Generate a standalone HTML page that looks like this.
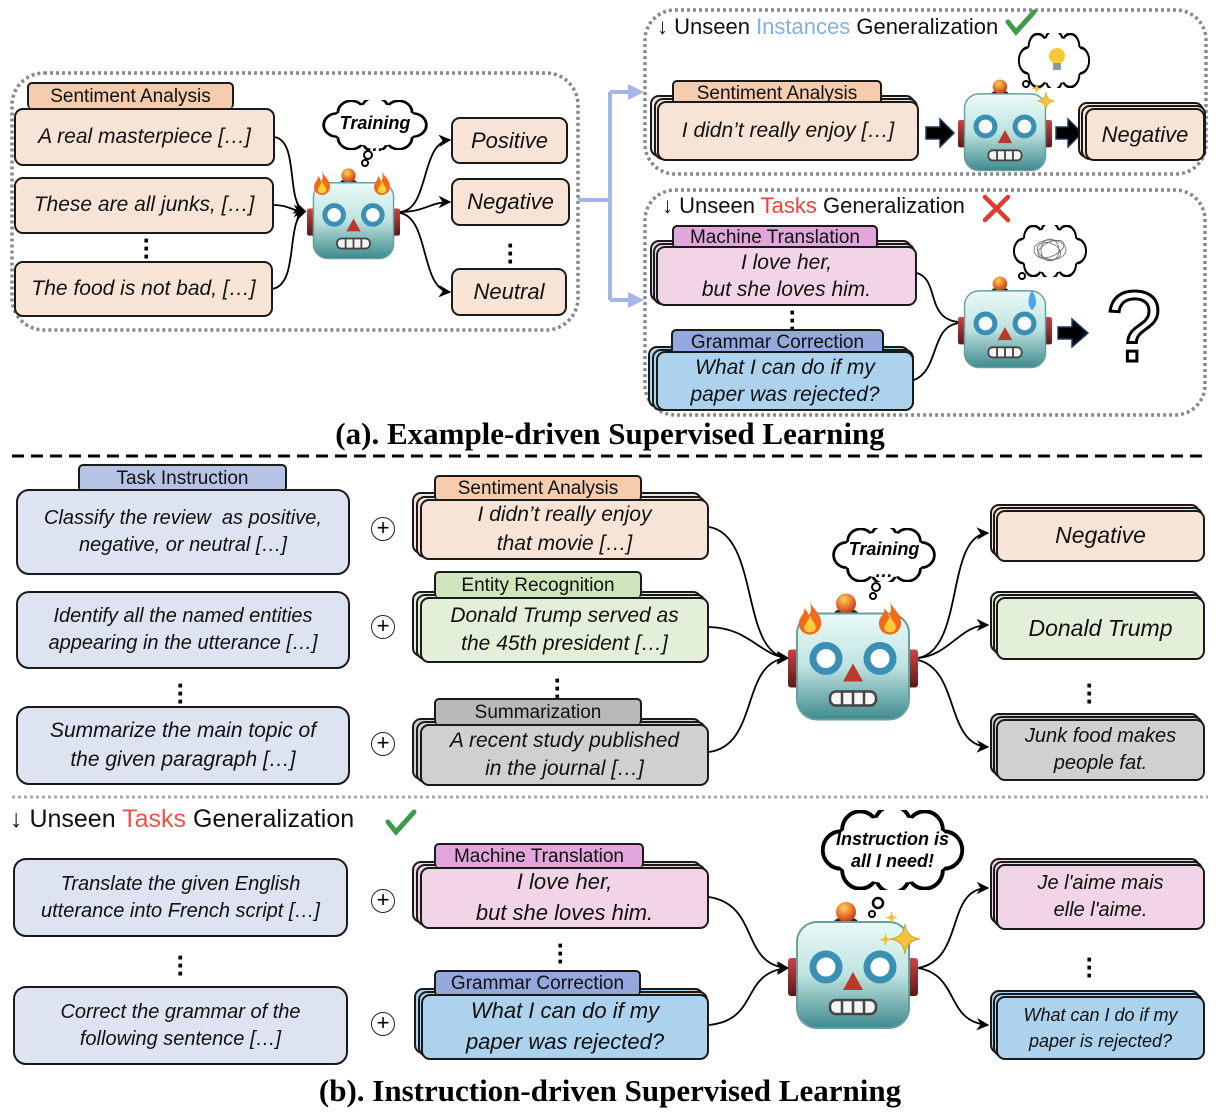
<!DOCTYPE html>
<html><head><meta charset="utf-8">
<style>
body{margin:0;background:#fff;}
#c{position:relative;width:1220px;height:1120px;overflow:hidden;font-family:"Liberation Sans","DejaVu Sans",sans-serif;}
.a{position:absolute;box-sizing:border-box;}
.b{position:absolute;box-sizing:border-box;border:2px solid #1a1a1a;border-radius:9px;display:flex;align-items:center;justify-content:center;text-align:center;font-style:italic;color:#111;line-height:1.35;}
.t{position:absolute;box-sizing:border-box;border:2px solid #1a1a1a;border-radius:5px;display:flex;align-items:center;justify-content:center;color:#111;font-size:19px;border-bottom:none;}
.pe{background:#f8e4d6}.pet{background:#f5ccae}
.pk{background:#f1d4e5}.pkt{background:#e3a6dc}
.gr{background:#e3efd8}.grt{background:#cfe5bd}
.gy{background:#d0d0d0}.gyt{background:#b9b9b9}
.bl{background:#add2ee}.blt{background:#94a8de}
.in{background:#dde3f0}.int{background:#b6c3e4}
.dots{position:absolute;font-size:26px;font-weight:bold;line-height:8px;width:10px;text-align:center;}
.plus{position:absolute;width:24px;height:24px;border:1.5px solid #222;border-radius:50%;box-sizing:border-box;font-size:22px;line-height:20px;text-align:center;font-weight:300;}
.ttl{position:absolute;left:0;width:1220px;text-align:center;font-family:"Liberation Serif",serif;font-weight:bold;font-size:31px;}
.hd{position:absolute;font-size:22px;color:#111;white-space:nowrap;}
.cl{position:absolute;text-align:center;font-style:italic;font-weight:bold;font-size:18px;line-height:22px;}
</style></head><body><div id="c">
<svg class="a" style="left:0;top:0" width="1220" height="1120" viewBox="0 0 1220 1120">
<defs>
<linearGradient id="hg" x1="0" y1="0" x2="0" y2="1"><stop offset="0" stop-color="#eafbf8"/><stop offset="0.5" stop-color="#bfe3e0"/><stop offset="1" stop-color="#3f8a8e"/></linearGradient>
<radialGradient id="ag" cx="0.4" cy="0.3" r="0.7"><stop offset="0" stop-color="#ffd35a"/><stop offset="0.6" stop-color="#e8702a"/><stop offset="1" stop-color="#b2401b"/></radialGradient>
<linearGradient id="eg" x1="0" y1="0" x2="0" y2="1"><stop offset="0" stop-color="#c44"/><stop offset="1" stop-color="#5a1a1a"/></linearGradient>
<symbol id="robot" viewBox="0 0 130 130">
<rect x="0" y="58" width="14" height="38" rx="3" fill="url(#eg)"/>
<rect x="116" y="58" width="14" height="38" rx="3" fill="url(#eg)"/>
<ellipse cx="58" cy="22" rx="12" ry="5" fill="#222"/>
<circle cx="58" cy="12" r="10" fill="url(#ag)"/>
<rect x="9" y="22" width="112" height="106" rx="20" fill="url(#hg)" stroke="#6a9e9e" stroke-width="2"/>
<circle cx="38" cy="67" r="13" fill="#fff" stroke="#3a8fb5" stroke-width="7"/>
<circle cx="92" cy="67" r="13" fill="#fff" stroke="#3a8fb5" stroke-width="7"/>
<polygon points="65,72 55,90 75,90" fill="#b83a2c"/>
<rect x="42" y="100" width="46" height="14" rx="6" fill="#f4f4f4" stroke="#444" stroke-width="2.5"/>
<path d="M54 100v14M65 100v14M76 100v14" stroke="#444" stroke-width="2.5"/>
</symbol>
<symbol id="cloud" viewBox="0 0 120 60" preserveAspectRatio="none">
<g fill="#fff" stroke="#000" stroke-width="3">
<circle cx="20" cy="30" r="14"/><circle cx="35" cy="15" r="14"/><circle cx="60" cy="11" r="14"/><circle cx="85" cy="15" r="14"/><circle cx="100" cy="30" r="14"/><circle cx="85" cy="45" r="14"/><circle cx="60" cy="49" r="13"/><circle cx="35" cy="45" r="14"/>
</g>
<g fill="#fff">
<circle cx="20" cy="30" r="12.3"/><circle cx="35" cy="15" r="12.3"/><circle cx="60" cy="11" r="12.3"/><circle cx="85" cy="15" r="12.3"/><circle cx="100" cy="30" r="12.3"/><circle cx="85" cy="45" r="12.3"/><circle cx="60" cy="49" r="11.3"/><circle cx="35" cy="45" r="12.3"/><ellipse cx="60" cy="30" rx="47" ry="25"/>
</g>
</symbol>
<symbol id="flame" viewBox="0 0 20 26">
<path d="M10 1C12 7 19 10 18 18C17 23 13 25 10 25C6 25 2 22 2 17C2 12 6 11 6 6C8 8 9 10 9 12C11 9 11 5 10 1Z" fill="#f26b1d"/>
<path d="M10 11C11 15 15 17 14 21C13 24 7 24 6 21C5 18 9 16 10 11Z" fill="#ffcf3a"/>
</symbol>
<symbol id="spark" viewBox="0 0 20 20"><path d="M10 0Q11 9 20 10Q11 11 10 20Q9 11 0 10Q9 9 10 0Z" fill="#f5c33a" stroke="#d79b1c" stroke-width="0.6"/></symbol>
<marker id="ar" viewBox="0 0 10 10" refX="9" refY="5" markerWidth="7" markerHeight="7" orient="auto"><path d="M0 0L10 5L0 10L3 5Z" fill="#000"/></marker>
</defs>

<rect x="12" y="73" width="566" height="257" rx="32" fill="none" stroke="#888" stroke-width="3.5" stroke-dasharray="3 3"/>
<rect x="645" y="10" width="561" height="164" rx="30" fill="none" stroke="#888" stroke-width="3.5" stroke-dasharray="3 3"/>
<rect x="645" y="190" width="560" height="225" rx="30" fill="none" stroke="#888" stroke-width="3.5" stroke-dasharray="3 3"/>
<path d="M578 200H610M610 92V300M610 92H636M610 300H636" stroke="#a3b6e6" stroke-width="4" fill="none"/>
<path d="M628 84L644 92L628 100Z M628 292L644 300L628 308Z" fill="#a3b6e6"/>

<g fill="none" stroke="#000" stroke-width="1.8">
<path d="M274 137C300 140 285 205 305 211" marker-end="url(#ar)"/>
<path d="M273 205C290 205 290 211 305 211" marker-end="url(#ar)"/>
<path d="M272 289C300 285 285 218 305 212" marker-end="url(#ar)"/>
<path d="M400 212C430 210 420 142 450 140" marker-end="url(#ar)"/>
<path d="M400 212C425 212 430 202 450 202" marker-end="url(#ar)"/>
<path d="M400 213C430 218 420 290 450 292" marker-end="url(#ar)"/>
<path d="M917 273C940 280 925 320 960 322"/>
<path d="M914 380C940 370 930 325 960 323"/>
<path d="M709 527C760 535 740 655 788 658" marker-end="url(#ar)"/>
<path d="M709 627C750 628 760 656 788 658" marker-end="url(#ar)"/>
<path d="M709 752C760 745 740 660 788 658" marker-end="url(#ar)"/>
<path d="M918 658C965 650 945 535 988 533" marker-end="url(#ar)"/>
<path d="M918 658C950 655 960 625 988 625" marker-end="url(#ar)"/>
<path d="M918 660C960 670 945 745 988 747" marker-end="url(#ar)"/>
<path d="M709 897C760 905 740 965 788 968" marker-end="url(#ar)"/>
<path d="M709 1025C760 1020 740 972 788 968" marker-end="url(#ar)"/>
<path d="M918 968C965 960 945 888 988 888" marker-end="url(#ar)"/>
<path d="M918 968C960 975 945 1022 988 1025" marker-end="url(#ar)"/>
</g>

<g fill="#000" stroke="#1f3864" stroke-width="1.5">
<path d="M926 127H940V119L954 133L940 147V139H926Z"/>
<path d="M1056 127H1068V119L1082 133L1068 147V139H1056Z"/>
<path d="M1058 327H1072V319L1088 333L1072 347V339H1058Z"/>
</g>

<line x1="12" y1="456" x2="1208" y2="456" stroke="#000" stroke-width="3" stroke-dasharray="12 7"/>
<line x1="12" y1="797" x2="1208" y2="797" stroke="#aaa" stroke-width="3" stroke-dasharray="3 3"/>

<use href="#cloud" x="318" y="100" width="114" height="50"/>
<circle cx="368" cy="155" r="4" fill="#fff" stroke="#000" stroke-width="2"/><circle cx="365" cy="163" r="3" fill="#fff" stroke="#000" stroke-width="2"/>
<use href="#cloud" x="1015" y="33" width="78" height="55"/>
<circle cx="1026" cy="84" r="3" fill="#fff" stroke="#000" stroke-width="2"/>
<use href="#cloud" x="1010" y="225" width="80" height="52"/>
<circle cx="1022" cy="276" r="3" fill="#fff" stroke="#000" stroke-width="2"/>
<use href="#cloud" x="828" y="528" width="112" height="54"/>
<circle cx="876" cy="587" r="4" fill="#fff" stroke="#000" stroke-width="2"/><circle cx="873" cy="596" r="3" fill="#fff" stroke="#000" stroke-width="2"/>
<use href="#cloud" x="815" y="810" width="155" height="80"/>
<circle cx="878" cy="903" r="5" fill="#fff" stroke="#000" stroke-width="2.5"/><circle cx="872" cy="914" r="3" fill="#fff" stroke="#000" stroke-width="2"/>
<circle cx="1057" cy="56" r="8" fill="#f7c936"/><rect x="1053" y="63" width="8" height="7" fill="#8899aa"/>
<g fill="none" stroke="#666" stroke-width="0.8"><ellipse cx="1050" cy="250" rx="16" ry="10"/><ellipse cx="1049" cy="251" rx="12" ry="8" transform="rotate(20 1049 251)"/><ellipse cx="1051" cy="249" rx="14" ry="7" transform="rotate(-25 1051 249)"/><ellipse cx="1050" cy="250" rx="9" ry="11"/></g>

<use href="#robot" x="307" y="165" width="93" height="97"/>
<use href="#robot" x="958" y="75" width="94" height="100"/>
<use href="#robot" x="958" y="272" width="94" height="100"/>
<use href="#robot" x="788" y="588" width="130" height="137"/>
<use href="#robot" x="788" y="895" width="130" height="140"/>
<use href="#flame" x="312" y="170" width="20" height="26"/>
<use href="#flame" x="372" y="170" width="20" height="26"/>
<use href="#flame" x="796" y="600" width="28" height="36"/>
<use href="#flame" x="876" y="600" width="28" height="36"/>
<use href="#spark" x="1037" y="92" width="18" height="18"/><use href="#spark" x="1032" y="84" width="9" height="9"/>
<use href="#spark" x="890" y="924" width="30" height="30"/><use href="#spark" x="886" y="912" width="11" height="11"/><use href="#spark" x="880" y="934" width="11" height="11"/>
<path d="M1032 290Q1025 304 1032 310Q1040 304 1032 290Z" fill="#4aa6e8"/>
<path d="M1008 22L1016 32L1034 12" stroke="#3d9a4a" stroke-width="5" fill="none" stroke-linecap="round"/>
<path d="M388 822L396 832L414 812" stroke="#3d9a4a" stroke-width="5" fill="none" stroke-linecap="round"/>
<path d="M985 197L1008 220M1008 197L985 220" stroke="#e53a2e" stroke-width="4.5" stroke-linecap="round"/>
</svg>

<div class="t pet" style="left:27px;top:82px;width:207px;height:27px;">Sentiment Analysis</div>
<div class="b pe" style="left:14px;top:108px;width:261px;height:58px;font-size:21px;">A real masterpiece […]</div>
<div class="b pe" style="left:14px;top:177px;width:260px;height:57px;font-size:21px;">These are all junks, […]</div>
<div class="dots" style="left:142px;top:236px;">·<br>·<br>·</div>
<div class="b pe" style="left:14px;top:261px;width:259px;height:56px;font-size:21px;">The food is not bad, […]</div>
<div class="cl" style="left:318px;top:112px;width:114px;">Training<br>…</div>
<div class="b pe" style="left:451px;top:117px;width:117px;height:47px;font-size:22px;">Positive</div>
<div class="b pe" style="left:451px;top:178px;width:119px;height:48px;font-size:22px;">Negative</div>
<div class="dots" style="left:506px;top:241px;">·<br>·<br>·</div>
<div class="b pe" style="left:451px;top:268px;width:116px;height:48px;font-size:22px;">Neutral</div>

<div class="hd" style="left:657px;top:14px;">↓ Unseen <span style="color:#7fb2e0">Instances</span> Generalization</div>
<div class="b pe" style="left:650px;top:95px;width:265px;height:62px;"></div>
<div class="b pe" style="left:654px;top:98px;width:264px;height:62px;"></div>
<div class="t pet" style="left:672px;top:80px;width:210px;height:25px;">Sentiment Analysis</div>
<div class="b pe" style="left:657px;top:101px;width:262px;height:60px;font-size:21px;">I didn’t really enjoy […]</div>
<div class="b pe" style="left:1078px;top:102px;width:126px;height:56px;"></div>
<div class="b pe" style="left:1081px;top:105px;width:125px;height:55px;"></div>
<div class="b pe" style="left:1085px;top:108px;width:120px;height:53px;font-size:22px;">Negative</div>

<div class="hd" style="left:662px;top:193px;">↓ Unseen <span style="color:#e8443a">Tasks</span> Generalization</div>
<div class="b pk" style="left:650px;top:240px;width:262px;height:62px;"></div>
<div class="b pk" style="left:653px;top:243px;width:262px;height:62px;"></div>
<div class="t pkt" style="left:672px;top:225px;width:206px;height:24px;">Machine Translation</div>
<div class="b pk" style="left:656px;top:246px;width:261px;height:60px;font-size:21px;line-height:1.3;">I love her,<br>but she loves him.</div>
<div class="dots" style="left:788px;top:308px;">·<br>·<br>·</div>
<div class="b bl" style="left:648px;top:346px;width:262px;height:62px;"></div>
<div class="b bl" style="left:652px;top:349px;width:262px;height:62px;"></div>
<div class="t blt" style="left:671px;top:329px;width:213px;height:25px;">Grammar Correction</div>
<div class="b bl" style="left:656px;top:351px;width:258px;height:60px;font-size:21px;line-height:1.3;">What I can do if my<br>paper was rejected?</div>
<div class="a" style="left:1106px;top:272px;font-size:100px;line-height:110px;color:#fff;-webkit-text-stroke:3px #000;font-family:'Liberation Sans',sans-serif;">?</div>

<div class="ttl" style="top:416px;">(a). Example-driven Supervised Learning</div>

<div class="t int" style="left:78px;top:464px;width:209px;height:28px;">Task Instruction</div>
<div class="b in" style="left:16px;top:489px;width:334px;height:86px;font-size:20px;border-radius:13px;">Classify the review&nbsp; as positive,<br>negative, or neutral […]</div>
<div class="b in" style="left:16px;top:591px;width:334px;height:78px;font-size:20px;border-radius:13px;">Identify all the named entities<br>appearing in the utterance […]</div>
<div class="dots" style="left:176px;top:681px;">·<br>·<br>·</div>
<div class="b in" style="left:16px;top:706px;width:334px;height:79px;font-size:21px;border-radius:13px;">Summarize the main topic of<br>the given paragraph […]</div>
<div class="plus" style="left:371px;top:517px;">+</div>
<div class="plus" style="left:371px;top:615px;">+</div>
<div class="plus" style="left:371px;top:732px;">+</div>

<div class="b pe" style="left:412px;top:492px;width:290px;height:62px;"></div>
<div class="b pe" style="left:416px;top:496px;width:290px;height:62px;"></div>
<div class="t pet" style="left:434px;top:475px;width:208px;height:26px;">Sentiment Analysis</div>
<div class="b pe" style="left:420px;top:499px;width:289px;height:61px;font-size:21px;line-height:1.35;">I didn’t really enjoy<br>that movie […]</div>

<div class="b gr" style="left:412px;top:591px;width:290px;height:66px;"></div>
<div class="b gr" style="left:416px;top:594px;width:290px;height:66px;"></div>
<div class="t grt" style="left:434px;top:571px;width:208px;height:27px;">Entity Recognition</div>
<div class="b gr" style="left:420px;top:597px;width:289px;height:66px;font-size:21px;line-height:1.35;">Donald Trump served as<br>the 45th president […]</div>
<div class="dots" style="left:553px;top:676px;">·<br>·<br>·</div>

<div class="b gy" style="left:412px;top:718px;width:290px;height:62px;"></div>
<div class="b gy" style="left:416px;top:721px;width:290px;height:62px;"></div>
<div class="t gyt" style="left:434px;top:698px;width:208px;height:27px;">Summarization</div>
<div class="b gy" style="left:420px;top:724px;width:289px;height:62px;font-size:21px;line-height:1.35;">A recent study published<br>in the journal […]</div>

<div class="cl" style="left:828px;top:538px;width:112px;">Training<br>…</div>

<div class="b pe" style="left:990px;top:504px;width:210px;height:52px;"></div>
<div class="b pe" style="left:993px;top:507px;width:210px;height:52px;"></div>
<div class="b pe" style="left:996px;top:510px;width:209px;height:52px;font-size:23px;">Negative</div>
<div class="b gr" style="left:990px;top:591px;width:210px;height:62px;"></div>
<div class="b gr" style="left:993px;top:594px;width:210px;height:62px;"></div>
<div class="b gr" style="left:996px;top:597px;width:209px;height:63px;font-size:23px;">Donald Trump</div>
<div class="dots" style="left:1085px;top:681px;">·<br>·<br>·</div>
<div class="b gy" style="left:990px;top:713px;width:210px;height:62px;"></div>
<div class="b gy" style="left:993px;top:716px;width:210px;height:62px;"></div>
<div class="b gy" style="left:996px;top:719px;width:209px;height:62px;font-size:20px;line-height:1.35;">Junk food makes<br>people fat.</div>

<div class="hd" style="left:10px;top:805px;font-size:25px;">↓ Unseen <span style="color:#e8544a">Tasks</span> Generalization</div>
<div class="b in" style="left:13px;top:858px;width:335px;height:79px;font-size:20px;border-radius:13px;">Translate the given English<br>utterance into French script […]</div>
<div class="dots" style="left:176px;top:953px;">·<br>·<br>·</div>
<div class="b in" style="left:13px;top:986px;width:335px;height:79px;font-size:20px;border-radius:13px;">Correct the grammar of the<br>following sentence […]</div>
<div class="plus" style="left:371px;top:889px;">+</div>
<div class="plus" style="left:371px;top:1012px;">+</div>

<div class="b pk" style="left:412px;top:861px;width:290px;height:62px;"></div>
<div class="b pk" style="left:416px;top:864px;width:290px;height:62px;"></div>
<div class="t pkt" style="left:434px;top:843px;width:210px;height:25px;">Machine Translation</div>
<div class="b pk" style="left:420px;top:867px;width:289px;height:62px;font-size:22px;line-height:1.4;">I love her,<br>but she loves him.</div>
<div class="dots" style="left:556px;top:941px;">·<br>·<br>·</div>
<div class="b bl" style="left:414px;top:988px;width:290px;height:66px;"></div>
<div class="b bl" style="left:418px;top:991px;width:290px;height:66px;"></div>
<div class="t blt" style="left:434px;top:970px;width:207px;height:26px;">Grammar Correction</div>
<div class="b bl" style="left:421px;top:994px;width:288px;height:66px;font-size:22px;line-height:1.4;">What I can do if my<br>paper was rejected?</div>

<div class="cl" style="left:815px;top:828px;width:155px;">Instruction is<br>all I need!</div>

<div class="b pk" style="left:990px;top:858px;width:210px;height:66px;"></div>
<div class="b pk" style="left:993px;top:861px;width:210px;height:66px;"></div>
<div class="b pk" style="left:996px;top:864px;width:209px;height:66px;font-size:20px;line-height:1.35;">Je l'aime mais<br>elle l'aime.</div>
<div class="dots" style="left:1085px;top:955px;">·<br>·<br>·</div>
<div class="b bl" style="left:990px;top:990px;width:210px;height:64px;"></div>
<div class="b bl" style="left:993px;top:993px;width:210px;height:64px;"></div>
<div class="b bl" style="left:996px;top:996px;width:209px;height:64px;font-size:18px;line-height:1.45;">What can I do if my<br>paper is rejected?</div>

<div class="ttl" style="top:1073px;">(b). Instruction-driven Supervised Learning</div>
</div></body></html>
